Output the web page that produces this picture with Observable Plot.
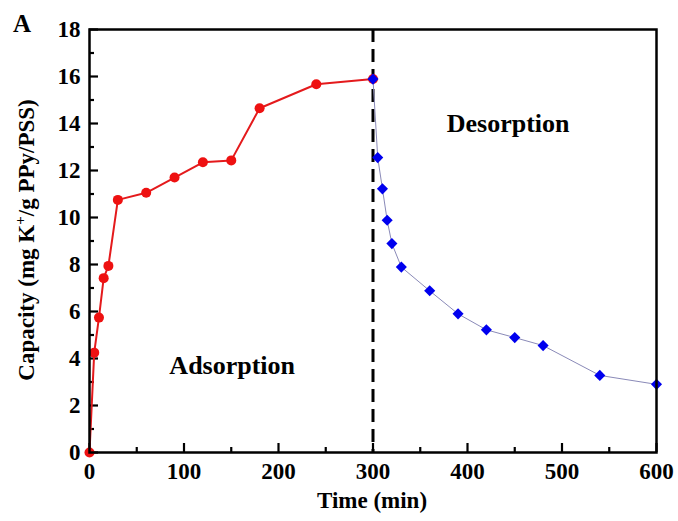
<!DOCTYPE html>
<html>
<head>
<meta charset="utf-8">
<script src="https://cdn.jsdelivr.net/npm/d3@7"></script>
<script src="https://cdn.jsdelivr.net/npm/@observablehq/plot@0.6"></script>
<style>
  html, body { margin: 0; padding: 0; background: #fff; }
  #chart { width: 678px; height: 521px; }
</style>
</head>
<body>
<div id="chart"></div>
<script>
// Adsorption (red circles)
const adsTime = [0, 5, 10, 15, 20, 30, 60, 90, 120, 150, 180, 240, 300];
const adsCap  = [0, 4.25, 5.74, 7.42, 7.94, 10.75, 11.05, 11.7, 12.35, 12.43, 14.65, 15.67, 15.89];
// Desorption (blue diamonds)
const desTime = [300, 305, 310, 315, 320, 330, 360, 390, 420, 450, 480, 540, 600];
const desCap  = [15.89, 12.55, 11.22, 9.88, 8.89, 7.89, 6.88, 5.9, 5.22, 4.89, 4.55, 3.28, 2.9];
// Axis ticks
const xMajor = [0, 100, 200, 300, 400, 500, 600];
const xMinor = [50, 150, 250, 350, 450, 550];
const yMajor = [0, 2, 4, 6, 8, 10, 12, 14, 16, 18];
const yMinor = [1, 3, 5, 7, 9, 11, 13, 15, 17];
const switchTime = [300];
const phaseLabels = ["Adsorption", "Desorption"];
const phaseTime = [151, 443];
const phaseCap = [3.7, 14.0];

const ads = adsTime.map((t, i) => ({t, c: adsCap[i]}));
const des = desTime.map((t, i) => ({t, c: desCap[i]}));
const phases = phaseLabels.map((label, i) => ({label, t: phaseTime[i], c: phaseCap[i]}));

const font = "'Liberation Serif', 'Times New Roman', serif";

const W = 678, H = 521, ML = 89, MR = 22, MT = 29, MB = 69;
const FW = W - ML - MR, FH = H - MT - MB;

const chart = Plot.plot({
  width: W,
  height: H,
  marginLeft: ML,
  marginRight: MR,
  marginTop: MT,
  marginBottom: MB,
  style: {fontFamily: font, fontSize: "23px", fontWeight: "bold", color: "#000", background: "#fff"},
  x: {domain: [0, 600]},
  y: {domain: [0, 18]},
  marks: [
    // tick labels
    Plot.axisX({ticks: xMajor, tickSize: 0, tickPadding: 10, label: null, fontSize: 23}),
    Plot.axisY({ticks: yMajor, tickSize: 0, tickPadding: 9, label: null, fontSize: 23}),
    // inward ticks
    Plot.ruleX(xMajor, {x: d => d, insetTop: FH - 9, stroke: "#000", strokeWidth: 2.2}),
    Plot.ruleX(xMinor, {x: d => d, insetTop: FH - 5, stroke: "#000", strokeWidth: 2.2}),
    Plot.ruleY(yMajor, {y: d => d, insetRight: FW - 9, stroke: "#000", strokeWidth: 2.2}),
    Plot.ruleY(yMinor, {y: d => d, insetRight: FW - 5, stroke: "#000", strokeWidth: 2.2}),
    // dashed switch line
    Plot.ruleX(switchTime, {stroke: "#000", strokeWidth: 3, strokeDasharray: "13,7"}),
    // desorption
    Plot.line(des, {x: "t", y: "c", stroke: "#8a8ab8", strokeWidth: 1}),
    // adsorption
    Plot.line(ads, {x: "t", y: "c", stroke: "#e41a1c", strokeWidth: 2}),
    Plot.dot(ads, {x: "t", y: "c", r: 5, fill: "#ee1111", stroke: "none"}),
    Plot.dot(des, {x: "t", y: "c", r: 5, symbol: "diamond2", fill: "#0000ee", stroke: "none"}),
    // annotations
    Plot.text(phases, {x: "t", y: "c", text: "label", fontSize: 26, fontWeight: "bold", fill: "#000", lineAnchor: "middle"}),
    Plot.frame({stroke: "#000", strokeWidth: 2.5})
  ]
});

document.getElementById("chart").appendChild(chart);

const svg = d3.select(chart);
// panel letter
svg.append("text")
  .attr("x", 13).attr("y", 32)
  .attr("text-anchor", "start")
  .style("font-family", font).style("font-weight", "bold").style("font-size", "25px")
  .attr("fill", "#000")
  .text("A");
// x axis title
svg.append("text")
  .attr("x", 372).attr("y", 508)
  .attr("text-anchor", "middle")
  .style("font-family", font).style("font-weight", "bold").style("font-size", "23px")
  .attr("fill", "#000")
  .text("Time (min)");
// y axis title with superscript
const yt = svg.append("text")
  .attr("transform", "translate(34,240) rotate(-90)")
  .attr("text-anchor", "middle")
  .style("font-family", font).style("font-weight", "bold").style("font-size", "23px")
  .attr("fill", "#000");
yt.append("tspan").text("Capacity (mg K");
yt.append("tspan").style("font-size", "15px").attr("dy", -9).text("+");
yt.append("tspan").attr("dy", 9).text("/g PPy/PSS)");
</script>
</body>
</html>
